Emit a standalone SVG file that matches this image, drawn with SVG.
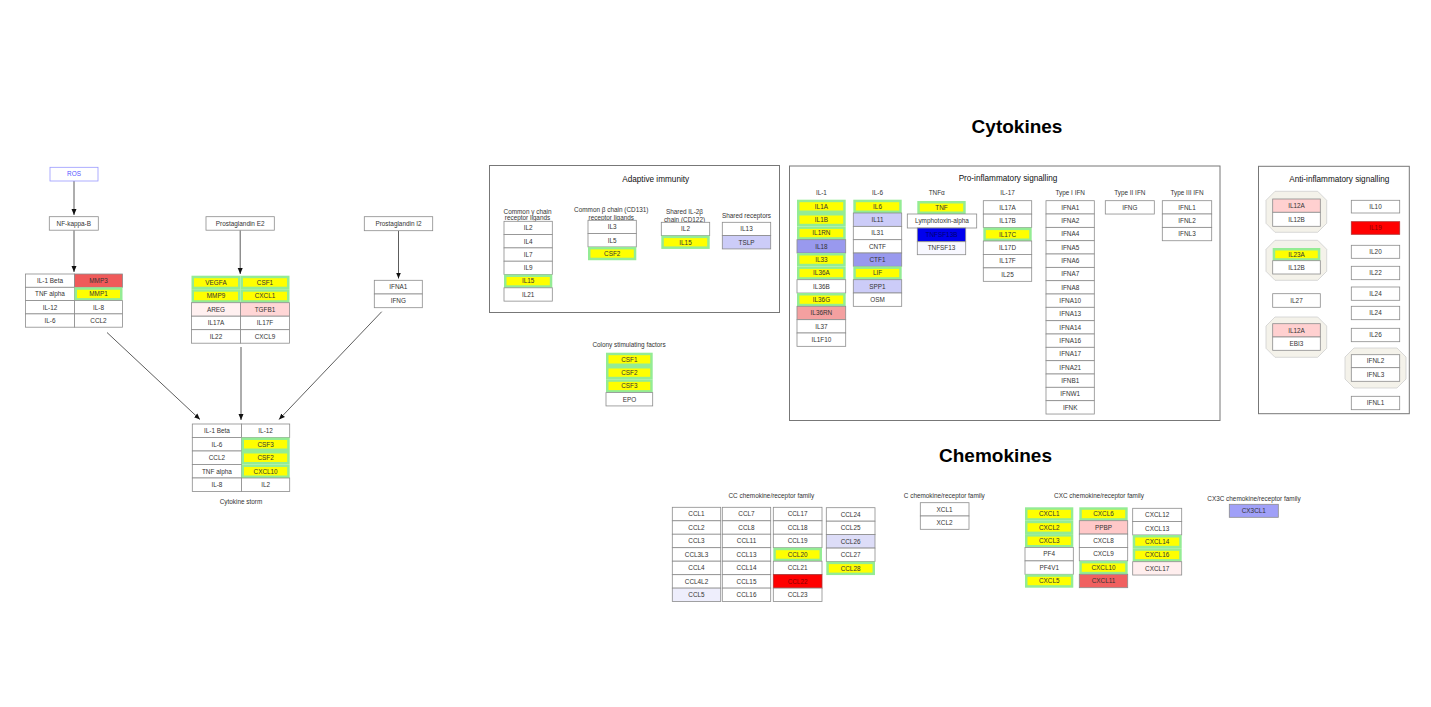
<svg xmlns="http://www.w3.org/2000/svg" width="1431" height="707" viewBox="0 0 1431 707">
<style>
.c{fill:#fff;stroke:#8c8c8c;stroke-width:0.8}
.g{fill:#94ec94;stroke:none}
.y{fill:#ffff00;stroke:none}
text{font-family:"Liberation Sans",Arial,sans-serif;font-size:6.4px;fill:#333;text-anchor:middle}
.h{font-size:8.2px;fill:#111}
.big{font-size:19px;font-weight:bold;fill:#000}
.box{fill:none;stroke:#777;stroke-width:1}
.oct{fill:#f4f2ea;stroke:#cfcfcf;stroke-width:0.8}
.e{stroke:#333;stroke-width:0.8;fill:none;marker-end:url(#ah)}
</style>
<defs>
<marker id="ah" markerUnits="userSpaceOnUse" markerWidth="7" markerHeight="6" refX="6" refY="3" orient="auto"><path d="M0,0.5 L6,3 L0,5.5 z" fill="#111"/></marker>
</defs>
<rect width="1431" height="707" fill="#fff"/>

<g id="connectors">
<line class="e" x1="74" y1="181" x2="74" y2="215"/>
<line class="e" x1="74" y1="230.2" x2="74" y2="272"/>
<line class="e" x1="240.2" y1="230.2" x2="240.2" y2="274"/>
<line class="e" x1="398.5" y1="230.7" x2="398.5" y2="278.5"/>
<line class="e" x1="107" y1="332.5" x2="200" y2="419.5"/>
<line class="e" x1="241" y1="347" x2="241" y2="420"/>
<line class="e" x1="381.7" y1="311.7" x2="279" y2="419.5"/>
</g>

<g id="titles">
<text class="big" x="1017" y="133">Cytokines</text>
<text class="big" x="995.5" y="462">Chemokines</text>
</g>

<g id="ROS"><rect x="50" y="167.3" width="48" height="13.7" fill="#fff" stroke="#9999ff" stroke-width="0.8"/><text x="74" y="176.4" style="fill:#5555ff">ROS</text></g>
<g id="NFkB"><rect class="c" x="49.3" y="216.7" width="49" height="13.5"/><text x="73.8" y="225.7">NF-kappa-B</text></g>
<g id="PGE2"><rect class="c" x="206" y="216.7" width="68.3" height="13.5"/><text x="240.2" y="225.7">Prostaglandin E2</text></g>
<g id="PGI2"><rect class="c" x="364.3" y="216.7" width="68.4" height="14"/><text x="398.5" y="225.9">Prostaglandin I2</text></g>

<g id="table-nfkb">
<g id="t1-IL1B"><rect class="c" x="25.5" y="274" width="49" height="13.3"/><text x="50" y="282.9">IL-1 Beta</text></g>
<g id="t1-MMP3"><rect class="c" x="74.5" y="274" width="48" height="13.3" style="fill:#f05a5a"/><text x="98.5" y="282.9">MMP3</text></g>
<g id="t1-TNF"><rect class="c" x="25.5" y="287.3" width="49" height="13.3"/><text x="50" y="296.2">TNF alpha</text></g>
<g id="t1-MMP1"><rect class="g" x="74.5" y="287.3" width="48" height="13.3"/><rect class="y" x="77" y="289.8" width="43" height="8.3"/><text x="98.5" y="296.2">MMP1</text></g>
<g id="t1-IL12"><rect class="c" x="25.5" y="300.6" width="49" height="13.3"/><text x="50" y="309.5">IL-12</text></g>
<g id="t1-IL8"><rect class="c" x="74.5" y="300.6" width="48" height="13.3"/><text x="98.5" y="309.5">IL-8</text></g>
<g id="t1-IL6"><rect class="c" x="25.5" y="313.9" width="49" height="13.3"/><text x="50" y="322.8">IL-6</text></g>
<g id="t1-CCL2"><rect class="c" x="74.5" y="313.9" width="48" height="13.3"/><text x="98.5" y="322.8">CCL2</text></g>
</g>

<g id="table-pge2">
<g id="t2-VEGFA"><rect class="g" x="191.5" y="275.7" width="49" height="13.5"/><rect class="y" x="194" y="278.2" width="44" height="8.5"/><text x="216" y="284.7">VEGFA</text></g>
<g id="t2-CSF1"><rect class="g" x="240.5" y="275.7" width="49" height="13.5"/><rect class="y" x="243" y="278.2" width="44" height="8.5"/><text x="265" y="284.7">CSF1</text></g>
<g id="t2-MMP9"><rect class="g" x="191.5" y="289.2" width="49" height="13.5"/><rect class="y" x="194" y="291.7" width="44" height="8.5"/><text x="216" y="298.2">MMP9</text></g>
<g id="t2-CXCL1"><rect class="g" x="240.5" y="289.2" width="49" height="13.5"/><rect class="y" x="243" y="291.7" width="44" height="8.5"/><text x="265" y="298.2">CXCL1</text></g>
<g id="t2-AREG"><rect class="c" x="191.5" y="302.7" width="49" height="13.5" style="fill:#fff0f0"/><text x="216" y="311.7">AREG</text></g>
<g id="t2-TGFB1"><rect class="c" x="240.5" y="302.7" width="49" height="13.5" style="fill:#ffd6d6"/><text x="265" y="311.7">TGFB1</text></g>
<g id="t2-IL17A"><rect class="c" x="191.5" y="316.2" width="49" height="13.5"/><text x="216" y="325.2">IL17A</text></g>
<g id="t2-IL17F"><rect class="c" x="240.5" y="316.2" width="49" height="13.5"/><text x="265" y="325.2">IL17F</text></g>
<g id="t2-IL22"><rect class="c" x="191.5" y="329.7" width="49" height="13.5"/><text x="216" y="338.7">IL22</text></g>
<g id="t2-CXCL9"><rect class="c" x="240.5" y="329.7" width="49" height="13.5"/><text x="265" y="338.7">CXCL9</text></g>
</g>

<g id="table-pgi2">
<g id="t3-IFNA1"><rect class="c" x="374.3" y="280.3" width="48" height="13.7"/><text x="398.3" y="289.2">IFNA1</text></g>
<g id="t3-IFNG"><rect class="c" x="374.3" y="294" width="48" height="13.7"/><text x="398.3" y="302.9">IFNG</text></g>
</g>

<g id="cytokine-storm">
<g id="s-IL1B"><rect class="c" x="192.3" y="424" width="49.2" height="13.5"/><text x="216.9" y="433">IL-1 Beta</text></g>
<g id="s-IL12"><rect class="c" x="241.5" y="424" width="48.2" height="13.5"/><text x="265.6" y="433">IL-12</text></g>
<g id="s-IL6"><rect class="c" x="192.3" y="437.5" width="49.2" height="13.5"/><text x="216.9" y="446.5">IL-6</text></g>
<g id="s-CSF3"><rect class="g" x="241.5" y="437.5" width="48.2" height="13.5"/><rect class="y" x="244" y="440" width="43.2" height="8.5"/><text x="265.6" y="446.5">CSF3</text></g>
<g id="s-CCL2"><rect class="c" x="192.3" y="451" width="49.2" height="13.5"/><text x="216.9" y="460">CCL2</text></g>
<g id="s-CSF2"><rect class="g" x="241.5" y="451" width="48.2" height="13.5"/><rect class="y" x="244" y="453.5" width="43.2" height="8.5"/><text x="265.6" y="460">CSF2</text></g>
<g id="s-TNF"><rect class="c" x="192.3" y="464.5" width="49.2" height="13.5"/><text x="216.9" y="473.5">TNF alpha</text></g>
<g id="s-CXCL10"><rect class="g" x="241.5" y="464.5" width="48.2" height="13.5"/><rect class="y" x="244" y="467" width="43.2" height="8.5"/><text x="265.6" y="473.5">CXCL10</text></g>
<g id="s-IL8"><rect class="c" x="192.3" y="478" width="49.2" height="13.5"/><text x="216.9" y="487">IL-8</text></g>
<g id="s-IL2"><rect class="c" x="241.5" y="478" width="48.2" height="13.5"/><text x="265.6" y="487">IL2</text></g>
<text x="241" y="504">Cytokine storm</text>
</g>

<g id="adaptive-immunity">
<rect class="box" x="489.5" y="165.5" width="290" height="147"/>
<text class="h" x="655.7" y="182">Adaptive immunity</text>
<text x="527.5" y="213.5">Common γ chain</text>
<text x="527.5" y="220">receptor ligands</text>
<text x="611.3" y="212">Common β chain (CD131)</text>
<text x="611.3" y="220.3">receptor ligands</text>
<text x="684.5" y="214.3">Shared IL-2β</text>
<text x="684.5" y="222">chain (CD122)</text>
<text x="746.5" y="218">Shared receptors</text>
<g id="a-IL2"><rect class="c" x="504" y="221.3" width="48.3" height="13.33"/><text x="528.2" y="230.2">IL2</text></g>
<g id="a-IL4"><rect class="c" x="504" y="234.6" width="48.3" height="13.33"/><text x="528.2" y="243.5">IL4</text></g>
<g id="a-IL7"><rect class="c" x="504" y="247.9" width="48.3" height="13.33"/><text x="528.2" y="256.8">IL7</text></g>
<g id="a-IL9"><rect class="c" x="504" y="261.2" width="48.3" height="13.33"/><text x="528.2" y="270.1">IL9</text></g>
<g id="a-IL15"><rect class="g" x="504" y="274.5" width="48.3" height="13.33"/><rect class="y" x="506.5" y="277" width="43.3" height="8.3"/><text x="528.2" y="283.4">IL15</text></g>
<g id="a-IL21"><rect class="c" x="504" y="287.8" width="48.3" height="13.33"/><text x="528.2" y="296.7">IL21</text></g>
<g id="a-IL3"><rect class="c" x="588" y="220.3" width="48.3" height="13.33"/><text x="612.2" y="229.2">IL3</text></g>
<g id="a-IL5"><rect class="c" x="588" y="233.6" width="48.3" height="13.33"/><text x="612.2" y="242.5">IL5</text></g>
<g id="a-CSF2"><rect class="g" x="588" y="246.9" width="48.3" height="13.33"/><rect class="y" x="590.5" y="249.4" width="43.3" height="8.3"/><text x="612.2" y="255.8">CSF2</text></g>
<g id="a-IL2b"><rect class="c" x="661.3" y="222.3" width="48.4" height="13.33"/><text x="685.5" y="231.2">IL2</text></g>
<g id="a-IL15b"><rect class="g" x="661.3" y="235.6" width="48.4" height="13.33"/><rect class="y" x="663.8" y="238.1" width="43.4" height="8.3"/><text x="685.5" y="244.5">IL15</text></g>
<g id="a-IL13"><rect class="c" x="722.3" y="222.3" width="48.4" height="13.33"/><text x="746.5" y="231.2">IL13</text></g>
<g id="a-TSLP"><rect class="c" x="722.3" y="235.6" width="48.4" height="13.33" style="fill:#ccccf8"/><text x="746.5" y="244.5">TSLP</text></g>
</g>

<g id="colony-stimulating">
<text x="629" y="346.5">Colony stimulating factors</text>
<g id="c-CSF1"><rect class="g" x="606" y="352.7" width="46.7" height="13.33"/><rect class="y" x="608.5" y="355.2" width="41.7" height="8.3"/><text x="629.4" y="361.6">CSF1</text></g>
<g id="c-CSF2"><rect class="g" x="606" y="366" width="46.7" height="13.33"/><rect class="y" x="608.5" y="368.5" width="41.7" height="8.3"/><text x="629.4" y="374.9">CSF2</text></g>
<g id="c-CSF3"><rect class="g" x="606" y="379.3" width="46.7" height="13.33"/><rect class="y" x="608.5" y="381.8" width="41.7" height="8.3"/><text x="629.4" y="388.2">CSF3</text></g>
<g id="c-EPO"><rect class="c" x="606" y="392.6" width="46.7" height="13.33"/><text x="629.4" y="401.5">EPO</text></g>
</g>

<g id="pro-inflammatory">
<rect class="box" x="789.5" y="166" width="430.5" height="254.5"/>
<text class="h" x="1008" y="180.5">Pro-inflammatory signalling</text>
<text x="821.4" y="194.5">IL-1</text>
<text x="877.5" y="194.5">IL-6</text>
<text x="936.7" y="194.5">TNFα</text>
<text x="1007.5" y="194.5">IL-17</text>
<text x="1070.2" y="194.5">Type I IFN</text>
<text x="1129.8" y="194.5">Type II IFN</text>
<text x="1187" y="194.5">Type III IFN</text>

<g id="p-IL1A"><rect class="g" x="797" y="199.7" width="48.7" height="13.33"/><rect class="y" x="799.5" y="202.2" width="43.7" height="8.3"/><text x="821.4" y="208.6">IL1A</text></g>
<g id="p-IL1B"><rect class="g" x="797" y="213" width="48.7" height="13.33"/><rect class="y" x="799.5" y="215.5" width="43.7" height="8.3"/><text x="821.4" y="221.9">IL1B</text></g>
<g id="p-IL1RN"><rect class="g" x="797" y="226.4" width="48.7" height="13.33"/><rect class="y" x="799.5" y="228.9" width="43.7" height="8.3"/><text x="821.4" y="235.3">IL1RN</text></g>
<g id="p-IL18"><rect class="c" x="797" y="239.7" width="48.7" height="13.33" style="fill:#9999ee"/><text x="821.4" y="248.6">IL18</text></g>
<g id="p-IL33"><rect class="g" x="797" y="253" width="48.7" height="13.33"/><rect class="y" x="799.5" y="255.5" width="43.7" height="8.3"/><text x="821.4" y="261.9">IL33</text></g>
<g id="p-IL36A"><rect class="g" x="797" y="266.4" width="48.7" height="13.33"/><rect class="y" x="799.5" y="268.9" width="43.7" height="8.3"/><text x="821.4" y="275.3">IL36A</text></g>
<g id="p-IL36B"><rect class="c" x="797" y="279.7" width="48.7" height="13.33"/><text x="821.4" y="288.6">IL36B</text></g>
<g id="p-IL36G"><rect class="g" x="797" y="293" width="48.7" height="13.33"/><rect class="y" x="799.5" y="295.5" width="43.7" height="8.3"/><text x="821.4" y="301.9">IL36G</text></g>
<g id="p-IL36RN"><rect class="c" x="797" y="306.3" width="48.7" height="13.33" style="fill:#f4a0a0"/><text x="821.4" y="315.2">IL36RN</text></g>
<g id="p-IL37"><rect class="c" x="797" y="319.7" width="48.7" height="13.33"/><text x="821.4" y="328.6">IL37</text></g>
<g id="p-IL1F10"><rect class="c" x="797" y="333" width="48.7" height="13.33"/><text x="821.4" y="341.9">IL1F10</text></g>

<g id="p-IL6"><rect class="g" x="853.3" y="199.7" width="48.4" height="13.33"/><rect class="y" x="855.8" y="202.2" width="43.4" height="8.3"/><text x="877.5" y="208.6">IL6</text></g>
<g id="p-IL11"><rect class="c" x="853.3" y="213" width="48.4" height="13.33" style="fill:#ccccf8"/><text x="877.5" y="221.9">IL11</text></g>
<g id="p-IL31"><rect class="c" x="853.3" y="226.4" width="48.4" height="13.33"/><text x="877.5" y="235.3">IL31</text></g>
<g id="p-CNTF"><rect class="c" x="853.3" y="239.7" width="48.4" height="13.33"/><text x="877.5" y="248.6">CNTF</text></g>
<g id="p-CTF1"><rect class="c" x="853.3" y="253" width="48.4" height="13.33" style="fill:#9999ee"/><text x="877.5" y="261.9">CTF1</text></g>
<g id="p-LIF"><rect class="g" x="853.3" y="266.4" width="48.4" height="13.33"/><rect class="y" x="855.8" y="268.9" width="43.4" height="8.3"/><text x="877.5" y="275.3">LIF</text></g>
<g id="p-SPP1"><rect class="c" x="853.3" y="279.7" width="48.4" height="13.33" style="fill:#ccccf8"/><text x="877.5" y="288.6">SPP1</text></g>
<g id="p-OSM"><rect class="c" x="853.3" y="293" width="48.4" height="13.33"/><text x="877.5" y="301.9">OSM</text></g>

<g id="p-TNF"><rect class="g" x="917.3" y="201" width="48.4" height="13"/><rect class="y" x="919.8" y="203.5" width="43.4" height="8"/><text x="941.5" y="209.7">TNF</text></g>
<g id="p-LTA"><rect class="c" x="907.3" y="214" width="69.4" height="14"/><text x="942" y="223.2">Lymphotoxin-alpha</text></g>
<g id="p-TNFSF13B"><rect class="c" x="917.3" y="228" width="48.4" height="13.7" style="fill:#0000ee"/><text x="941.5" y="237" style="fill:#000070">TNFSF13B</text></g>
<g id="p-TNFSF13"><rect class="c" x="917.3" y="241.7" width="48.4" height="13" style="fill:#f8f8ff"/><text x="941.5" y="250.4">TNFSF13</text></g>

<g id="p-IL17A"><rect class="c" x="983.3" y="200.7" width="48.4" height="13.43"/><text x="1007.5" y="209.6">IL17A</text></g>
<g id="p-IL17B"><rect class="c" x="983.3" y="214.1" width="48.4" height="13.43"/><text x="1007.5" y="223">IL17B</text></g>
<g id="p-IL17C"><rect class="g" x="983.3" y="227.6" width="48.4" height="13.43"/><rect class="y" x="985.8" y="230.1" width="43.4" height="8.4"/><text x="1007.5" y="236.5">IL17C</text></g>
<g id="p-IL17D"><rect class="c" x="983.3" y="241" width="48.4" height="13.43"/><text x="1007.5" y="249.9">IL17D</text></g>
<g id="p-IL17F"><rect class="c" x="983.3" y="254.4" width="48.4" height="13.43"/><text x="1007.5" y="263.3">IL17F</text></g>
<g id="p-IL25"><rect class="c" x="983.3" y="267.9" width="48.4" height="13.43"/><text x="1007.5" y="276.8">IL25</text></g>

<g id="p-IFNA1"><rect class="c" x="1046" y="200.7" width="48.3" height="13.33"/><text x="1070.2" y="209.6">IFNA1</text></g>
<g id="p-IFNA2"><rect class="c" x="1046" y="214" width="48.3" height="13.33"/><text x="1070.2" y="222.9">IFNA2</text></g>
<g id="p-IFNA4"><rect class="c" x="1046" y="227.4" width="48.3" height="13.33"/><text x="1070.2" y="236.3">IFNA4</text></g>
<g id="p-IFNA5"><rect class="c" x="1046" y="240.7" width="48.3" height="13.33"/><text x="1070.2" y="249.6">IFNA5</text></g>
<g id="p-IFNA6"><rect class="c" x="1046" y="254" width="48.3" height="13.33"/><text x="1070.2" y="262.9">IFNA6</text></g>
<g id="p-IFNA7"><rect class="c" x="1046" y="267.4" width="48.3" height="13.33"/><text x="1070.2" y="276.3">IFNA7</text></g>
<g id="p-IFNA8"><rect class="c" x="1046" y="280.7" width="48.3" height="13.33"/><text x="1070.2" y="289.6">IFNA8</text></g>
<g id="p-IFNA10"><rect class="c" x="1046" y="294" width="48.3" height="13.33"/><text x="1070.2" y="302.9">IFNA10</text></g>
<g id="p-IFNA13"><rect class="c" x="1046" y="307.3" width="48.3" height="13.33"/><text x="1070.2" y="316.2">IFNA13</text></g>
<g id="p-IFNA14"><rect class="c" x="1046" y="320.7" width="48.3" height="13.33"/><text x="1070.2" y="329.6">IFNA14</text></g>
<g id="p-IFNA16"><rect class="c" x="1046" y="334" width="48.3" height="13.33"/><text x="1070.2" y="342.9">IFNA16</text></g>
<g id="p-IFNA17"><rect class="c" x="1046" y="347.3" width="48.3" height="13.33"/><text x="1070.2" y="356.2">IFNA17</text></g>
<g id="p-IFNA21"><rect class="c" x="1046" y="360.7" width="48.3" height="13.33"/><text x="1070.2" y="369.6">IFNA21</text></g>
<g id="p-IFNB1"><rect class="c" x="1046" y="374" width="48.3" height="13.33"/><text x="1070.2" y="382.9">IFNB1</text></g>
<g id="p-IFNW1"><rect class="c" x="1046" y="387.3" width="48.3" height="13.33"/><text x="1070.2" y="396.2">IFNW1</text></g>
<g id="p-IFNK"><rect class="c" x="1046" y="400.7" width="48.3" height="13.33"/><text x="1070.2" y="409.6">IFNK</text></g>

<g id="p-IFNG"><rect class="c" x="1105.3" y="200.7" width="49" height="13.33"/><text x="1129.8" y="209.6">IFNG</text></g>
<g id="p-IFNL1"><rect class="c" x="1162.3" y="200.7" width="49.4" height="13.33"/><text x="1187" y="209.6">IFNL1</text></g>
<g id="p-IFNL2"><rect class="c" x="1162.3" y="214" width="49.4" height="13.33"/><text x="1187" y="222.9">IFNL2</text></g>
<g id="p-IFNL3"><rect class="c" x="1162.3" y="227.4" width="49.4" height="13.33"/><text x="1187" y="236.3">IFNL3</text></g>
</g>

<g id="anti-inflammatory">
<rect class="box" x="1258.5" y="166.3" width="150.8" height="247.4"/>
<text class="h" x="1339.3" y="181.5">Anti-inflammatory signalling</text>
<g id="cx-IL12"><polygon class="oct" points="1275,191.3 1317.7,191.3 1326.7,200.3 1326.7,223.3 1317.7,232.3 1275,232.3 1266,223.3 1266,200.3"/>
<g id="ai-IL12A"><rect class="c" x="1272.7" y="199" width="47.6" height="13.3" style="fill:#ffd0d0"/><text x="1296.5" y="207.9">IL12A</text></g>
<g id="ai-IL12B"><rect class="c" x="1272.7" y="212.3" width="47.6" height="14"/><text x="1296.5" y="221.5">IL12B</text></g></g>
<g id="cx-IL23"><polygon class="oct" points="1275,240.3 1317.7,240.3 1326.7,249.3 1326.7,271.3 1317.7,280.3 1275,280.3 1266,271.3 1266,249.3"/>
<g id="ai-IL23A"><rect class="g" x="1272.7" y="248" width="47.6" height="12.7"/><rect class="y" x="1275.2" y="250.5" width="42.6" height="7.7"/><text x="1296.5" y="256.6">IL23A</text></g>
<g id="ai-IL12B2"><rect class="c" x="1272.7" y="260.7" width="47.6" height="13.3"/><text x="1296.5" y="269.6">IL12B</text></g></g>
<g id="ai-IL27"><rect class="c" x="1272.7" y="293.7" width="47.6" height="13.6"/><text x="1296.5" y="302.7">IL27</text></g>
<g id="cx-IL35"><polygon class="oct" points="1275,317 1317.7,317 1326.7,326 1326.7,348.3 1317.7,357.3 1275,357.3 1266,348.3 1266,326"/>
<g id="ai-IL12A2"><rect class="c" x="1272.7" y="323.7" width="47.6" height="13.3" style="fill:#ffd0d0"/><text x="1296.5" y="332.6">IL12A</text></g>
<g id="ai-EBI3"><rect class="c" x="1272.7" y="337" width="47.6" height="13.3"/><text x="1296.5" y="345.9">EBI3</text></g></g>
<g id="ai-IL10"><rect class="c" x="1351.3" y="200.3" width="48.4" height="12.7"/><text x="1375.5" y="208.9">IL10</text></g>
<g id="ai-IL19"><rect class="c" x="1351.3" y="221.7" width="48.4" height="12.6" style="fill:#ff0000;stroke:#b03030"/><text x="1375.5" y="230.2" style="fill:#880000">IL19</text></g>
<g id="ai-IL20"><rect class="c" x="1351.3" y="245.3" width="48.4" height="13"/><text x="1375.5" y="254">IL20</text></g>
<g id="ai-IL22"><rect class="c" x="1351.3" y="266.3" width="48.4" height="13.4"/><text x="1375.5" y="275.2">IL22</text></g>
<g id="ai-IL24"><rect class="c" x="1351.3" y="287" width="48.4" height="13.3"/><text x="1375.5" y="295.9">IL24</text></g>
<g id="ai-IL24b"><rect class="c" x="1351.3" y="306.3" width="48.4" height="13.4"/><text x="1375.5" y="315.2">IL24</text></g>
<g id="ai-IL26"><rect class="c" x="1351.3" y="328.3" width="48.4" height="13.4"/><text x="1375.5" y="337.2">IL26</text></g>
<g id="cx-IFNL"><polygon class="oct" points="1354,348 1397,348 1406,357 1406,379 1397,388 1354,388 1345,379 1345,357"/>
<g id="ai-IFNL2"><rect class="c" x="1351.3" y="354.7" width="48.4" height="13"/><text x="1375.5" y="363.4">IFNL2</text></g>
<g id="ai-IFNL3"><rect class="c" x="1351.3" y="367.7" width="48.4" height="13.6"/><text x="1375.5" y="376.7">IFNL3</text></g></g>
<g id="ai-IFNL1"><rect class="c" x="1351.3" y="396.3" width="48.4" height="13.4"/><text x="1375.5" y="405.2">IFNL1</text></g>
</g>

<g id="cc-family">
<text x="771.3" y="498.2">CC chemokine/receptor family</text>
<g id="CCL1"><rect class="c" x="672.3" y="507.3" width="48.4" height="13.47"/><text x="696.5" y="516.2">CCL1</text></g>
<g id="CCL2"><rect class="c" x="672.3" y="520.8" width="48.4" height="13.47"/><text x="696.5" y="529.7">CCL2</text></g>
<g id="CCL3"><rect class="c" x="672.3" y="534.2" width="48.4" height="13.47"/><text x="696.5" y="543.1">CCL3</text></g>
<g id="CCL3L3"><rect class="c" x="672.3" y="547.7" width="48.4" height="13.47"/><text x="696.5" y="556.6">CCL3L3</text></g>
<g id="CCL4"><rect class="c" x="672.3" y="561.2" width="48.4" height="13.47"/><text x="696.5" y="570.1">CCL4</text></g>
<g id="CCL4L2"><rect class="c" x="672.3" y="574.7" width="48.4" height="13.47"/><text x="696.5" y="583.6">CCL4L2</text></g>
<g id="CCL5"><rect class="c" x="672.3" y="588.1" width="48.4" height="13.47" style="fill:#eeeefc"/><text x="696.5" y="597">CCL5</text></g>
<g id="CCL7"><rect class="c" x="722.3" y="507.3" width="48.4" height="13.47"/><text x="746.5" y="516.2">CCL7</text></g>
<g id="CCL8"><rect class="c" x="722.3" y="520.8" width="48.4" height="13.47"/><text x="746.5" y="529.7">CCL8</text></g>
<g id="CCL11"><rect class="c" x="722.3" y="534.2" width="48.4" height="13.47"/><text x="746.5" y="543.1">CCL11</text></g>
<g id="CCL13"><rect class="c" x="722.3" y="547.7" width="48.4" height="13.47"/><text x="746.5" y="556.6">CCL13</text></g>
<g id="CCL14"><rect class="c" x="722.3" y="561.2" width="48.4" height="13.47"/><text x="746.5" y="570.1">CCL14</text></g>
<g id="CCL15"><rect class="c" x="722.3" y="574.7" width="48.4" height="13.47"/><text x="746.5" y="583.6">CCL15</text></g>
<g id="CCL16"><rect class="c" x="722.3" y="588.1" width="48.4" height="13.47"/><text x="746.5" y="597">CCL16</text></g>
<g id="CCL17"><rect class="c" x="773.3" y="507.3" width="48.7" height="13.47"/><text x="797.6" y="516.2">CCL17</text></g>
<g id="CCL18"><rect class="c" x="773.3" y="520.8" width="48.7" height="13.47"/><text x="797.6" y="529.7">CCL18</text></g>
<g id="CCL19"><rect class="c" x="773.3" y="534.2" width="48.7" height="13.47"/><text x="797.6" y="543.1">CCL19</text></g>
<g id="CCL20"><rect class="g" x="773.3" y="547.7" width="48.7" height="13.47"/><rect class="y" x="775.8" y="550.2" width="43.7" height="8.5"/><text x="797.6" y="556.6">CCL20</text></g>
<g id="CCL21"><rect class="c" x="773.3" y="561.2" width="48.7" height="13.47"/><text x="797.6" y="570.1">CCL21</text></g>
<g id="CCL22"><rect class="c" x="773.3" y="574.7" width="48.7" height="13.47" style="fill:#ff0000;stroke:#b03030"/><text x="797.6" y="583.6" style="fill:#880000">CCL22</text></g>
<g id="CCL23"><rect class="c" x="773.3" y="588.1" width="48.7" height="13.47"/><text x="797.6" y="597">CCL23</text></g>
<g id="CCL24"><rect class="c" x="826.3" y="507.7" width="48.7" height="13.46"/><text x="850.6" y="516.6">CCL24</text></g>
<g id="CCL25"><rect class="c" x="826.3" y="521.2" width="48.7" height="13.46"/><text x="850.6" y="530.1">CCL25</text></g>
<g id="CCL26"><rect class="c" x="826.3" y="534.6" width="48.7" height="13.46" style="fill:#ddddf8"/><text x="850.6" y="543.5">CCL26</text></g>
<g id="CCL27"><rect class="c" x="826.3" y="548.1" width="48.7" height="13.46"/><text x="850.6" y="557">CCL27</text></g>
<g id="CCL28"><rect class="g" x="826.3" y="561.6" width="48.7" height="13.46"/><rect class="y" x="828.8" y="564.1" width="43.7" height="8.5"/><text x="850.6" y="570.5">CCL28</text></g>
</g>

<g id="c-family">
<text x="944.3" y="498.2">C chemokine/receptor family</text>
<g id="XCL1"><rect class="c" x="920.3" y="502.7" width="48.7" height="13.3"/><text x="944.6" y="511.6">XCL1</text></g>
<g id="XCL2"><rect class="c" x="920.3" y="516" width="48.7" height="13.3"/><text x="944.6" y="524.9">XCL2</text></g>
</g>

<g id="cxc-family">
<text x="1099" y="498.2">CXC chemokine/receptor family</text>
<g id="CXCL1"><rect class="g" x="1025" y="507.3" width="48.3" height="13.4"/><rect class="y" x="1027.5" y="509.8" width="43.3" height="8.4"/><text x="1049.2" y="516.2">CXCL1</text></g>
<g id="CXCL2"><rect class="g" x="1025" y="520.7" width="48.3" height="13.4"/><rect class="y" x="1027.5" y="523.2" width="43.3" height="8.4"/><text x="1049.2" y="529.6">CXCL2</text></g>
<g id="CXCL3"><rect class="g" x="1025" y="534.1" width="48.3" height="13.4"/><rect class="y" x="1027.5" y="536.6" width="43.3" height="8.4"/><text x="1049.2" y="543">CXCL3</text></g>
<g id="PF4"><rect class="c" x="1025" y="547.5" width="48.3" height="13.4"/><text x="1049.2" y="556.4">PF4</text></g>
<g id="PF4V1"><rect class="c" x="1025" y="560.9" width="48.3" height="13.4"/><text x="1049.2" y="569.8">PF4V1</text></g>
<g id="CXCL5"><rect class="g" x="1025" y="574.3" width="48.3" height="13.4"/><rect class="y" x="1027.5" y="576.8" width="43.3" height="8.4"/><text x="1049.2" y="583.2">CXCL5</text></g>
<g id="CXCL6"><rect class="g" x="1079.3" y="507.3" width="48.4" height="13.4"/><rect class="y" x="1081.8" y="509.8" width="43.4" height="8.4"/><text x="1103.5" y="516.2">CXCL6</text></g>
<g id="PPBP"><rect class="c" x="1079.3" y="520.7" width="48.4" height="13.4" style="fill:#ffc8c8"/><text x="1103.5" y="529.6">PPBP</text></g>
<g id="CXCL8"><rect class="c" x="1079.3" y="534.1" width="48.4" height="13.4"/><text x="1103.5" y="543">CXCL8</text></g>
<g id="CXCL9"><rect class="c" x="1079.3" y="547.5" width="48.4" height="13.4"/><text x="1103.5" y="556.4">CXCL9</text></g>
<g id="CXCL10"><rect class="g" x="1079.3" y="560.9" width="48.4" height="13.4"/><rect class="y" x="1081.8" y="563.4" width="43.4" height="8.4"/><text x="1103.5" y="569.8">CXCL10</text></g>
<g id="CXCL11"><rect class="c" x="1079.3" y="574.3" width="48.4" height="13.4" style="fill:#f06060"/><text x="1103.5" y="583.2">CXCL11</text></g>
<g id="CXCL12"><rect class="c" x="1132.7" y="508.3" width="49" height="13.34"/><text x="1157.2" y="517.2">CXCL12</text></g>
<g id="CXCL13"><rect class="c" x="1132.7" y="521.6" width="49" height="13.34"/><text x="1157.2" y="530.5">CXCL13</text></g>
<g id="CXCL14"><rect class="g" x="1132.7" y="535" width="49" height="13.34"/><rect class="y" x="1135.2" y="537.5" width="44" height="8.3"/><text x="1157.2" y="543.9">CXCL14</text></g>
<g id="CXCL16"><rect class="g" x="1132.7" y="548.3" width="49" height="13.34"/><rect class="y" x="1135.2" y="550.8" width="44" height="8.3"/><text x="1157.2" y="557.2">CXCL16</text></g>
<g id="CXCL17"><rect class="c" x="1132.7" y="561.7" width="49" height="13.34" style="fill:#ffeeee"/><text x="1157.2" y="570.6">CXCL17</text></g>
</g>

<g id="cx3c-family">
<text x="1254" y="500.5">CX3C chemokine/receptor family</text>
<g id="CX3CL1"><rect class="c" x="1229.3" y="504.3" width="49" height="13" style="fill:#a0a0f8"/><text x="1253.8" y="513">CX3CL1</text></g>
</g>
</svg>
